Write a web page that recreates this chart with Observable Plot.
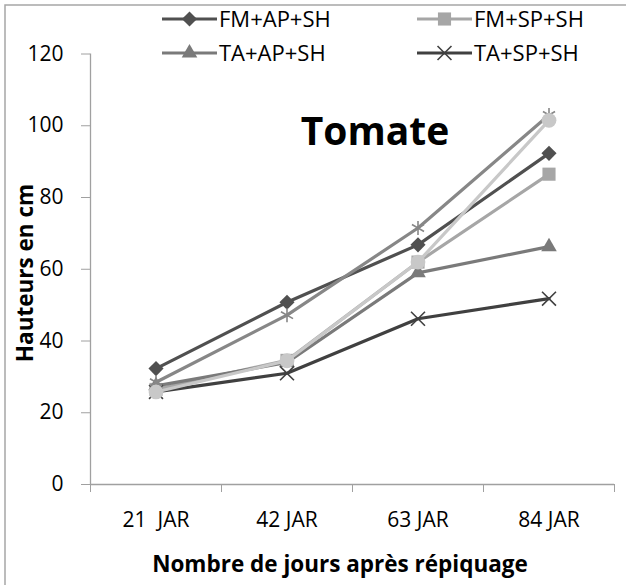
<!DOCTYPE html>
<html><head><meta charset="utf-8">
<script src="https://cdn.jsdelivr.net/npm/d3@7"></script>
<script src="https://cdn.jsdelivr.net/npm/@observablehq/plot@0.6"></script>
<style>
body{margin:0;background:#fff;}
#chart{position:relative;width:626px;height:585px;overflow:hidden;}
svg text{white-space:pre;}
</style>
</head><body><div id="chart"></div>
<script>
// ---- data ----
const categories = ["21  JAR", "42 JAR", "63 JAR", "84 JAR"];
const seriesNames = ["FM+AP+SH", "FM+SP+SH", "TA+AP+SH", "TA+SP+SH", "Série 5", "Série 6"];
const fmApSh = [32.3, 50.8, 66.8, 92.3];
const fmSpSh = [26.5, 34.6, 62.0, 86.5];
const taApSh = [27.5, 34.0, 59.0, 66.3];
const taSpSh = [25.8, 31.0, 46.2, 51.8];
const serie5 = [28.5, 47.2, 71.5, 103.0];
const serie6 = [25.8, 34.5, 62.0, 101.5];
const yTicks = [0, 20, 40, 60, 80, 100, 120];
const legendCount = 4;

// ---- styles ----
const colors  = ["#505050", "#a6a6a6", "#7a7a7a", "#404040", "#878787", "#c8c8c8"];
const symbols = ["diamond2", "square", "triangle", "times", "asterisk", "circle"];
const radii   = [6.8, 7.4, 5.8, 6.4, 6.6, 7.4];
const filled  = [true, true, true, false, false, true];

const values = [fmApSh, fmSpSh, taApSh, taSpSh, serie5, serie6];
const rows = [];
seriesNames.forEach((s, k) => values[k].forEach((v, i) => rows.push({serie: s, k, i, cat: categories[i], pos: i + 0.5, value: v})));

const axisGray = "#a0a0a0";
const font = "'Open Sans', sans-serif";

const marks = [
  Plot.ruleY([0], {stroke: axisGray, strokeWidth: 1.3}),
  Plot.ruleX([0], {stroke: axisGray, strokeWidth: 1.3}),
  Plot.axisY({ticks: yTicks, tickSize: 9, tickPadding: 18, stroke: axisGray, fill: "#000", fontSize: 21, label: null}),
  Plot.axisX({ticks: d3.range(categories.length + 1), tickSize: 8, tickFormat: () => "", stroke: axisGray, label: null}),
  Plot.axisX({ticks: categories.map((c, i) => i + 0.5), tickSize: 0, tickPadding: 28, fill: "#000", fontSize: 21,
              tickFormat: d => categories[Math.round(d - 0.5)], label: null})
];
seriesNames.forEach((s, k) => {
  const data = rows.filter(d => d.k === k);
  marks.push(Plot.line(data, {x: "pos", y: "value", stroke: colors[k], strokeWidth: 3.2}));
  marks.push(Plot.dot(data, {x: "pos", y: "value", symbol: symbols[k], r: radii[k],
    fill: filled[k] ? colors[k] : "none", stroke: colors[k], strokeWidth: filled[k] ? 0 : 1.6}));
});

const plot = Plot.plot({
  width: 626, height: 585,
  marginLeft: 90, marginRight: 12, marginTop: 53.5, marginBottom: 101,
  style: {fontFamily: font, background: "#fff", overflow: "visible"},
  x: {type: "linear", domain: [0, categories.length], axis: null},
  y: {domain: [0, 120], axis: null},
  marks
});

const svg = d3.select(plot);
// outer chart border
svg.insert("rect", ":first-child").attr("x", 5).attr("y", 5).attr("width", 800).attr("height", 800)
  .attr("fill", "none").attr("stroke", "#a6a6a6").attr("stroke-width", 1.5);

// title
svg.append("text").attr("x", 375).attr("y", 145).attr("text-anchor", "middle")
  .attr("font-family", font).attr("font-weight", "bold").attr("font-size", 39).attr("fill", "#000").text("Tomate");
// axis titles
svg.append("text").attr("x", 340).attr("y", 572).attr("text-anchor", "middle")
  .attr("font-family", font).attr("font-weight", "bold").attr("font-size", 22.5).attr("fill", "#000")
  .text("Nombre de jours après répiquage");
svg.append("text").attr("transform", "translate(33,273) rotate(-90)").attr("text-anchor", "middle")
  .attr("font-family", font).attr("font-weight", "bold").attr("font-size", 22.5).attr("fill", "#000")
  .text("Hauteurs en cm");

// legend (first four series)
const legCols = [162, 417], legRows = [19, 53];
const symMap = {diamond2: d3.symbolDiamond2, square: d3.symbolSquare, triangle: d3.symbolTriangle,
  times: d3.symbolTimes, asterisk: d3.symbolAsterisk, circle: d3.symbolCircle};
const leg = svg.append("g").attr("font-family", font).attr("font-size", 22).attr("text-anchor", "start");
seriesNames.slice(0, legendCount).forEach((s, k) => {
  const gx = legCols[k % 2], gy = legRows[Math.floor(k / 2)];
  const g = leg.append("g").attr("transform", `translate(${gx},${gy})`);
  g.append("line").attr("x1", 0).attr("x2", 55).attr("stroke", colors[k]).attr("stroke-width", 3.2);
  g.append("path").attr("transform", "translate(27.5,0)")
    .attr("d", d3.symbol(symMap[symbols[k]], Math.PI * radii[k] * radii[k])())
    .attr("fill", filled[k] ? colors[k] : "none").attr("stroke", colors[k]).attr("stroke-width", filled[k] ? 0 : 1.6);
  g.append("text").attr("x", 57).attr("dy", "0.36em").attr("text-anchor", "start").attr("fill", "#000").text(s);
});

document.getElementById("chart").appendChild(plot);
</script>
</body></html>
